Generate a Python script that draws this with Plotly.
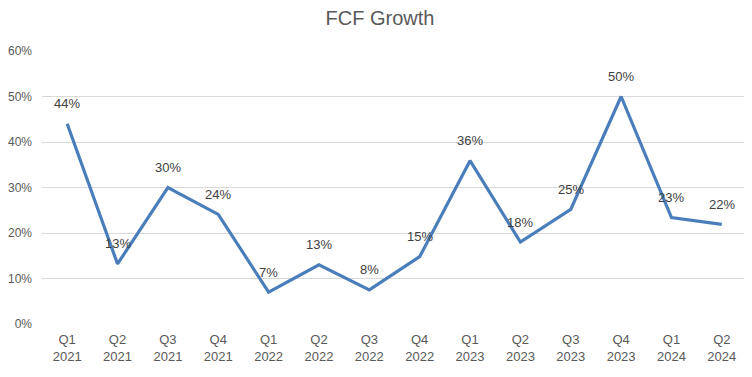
import plotly.graph_objects as go

categories = ["Q1<br>2021", "Q2<br>2021", "Q3<br>2021", "Q4<br>2021",
              "Q1<br>2022", "Q2<br>2022", "Q3<br>2022", "Q4<br>2022",
              "Q1<br>2023", "Q2<br>2023", "Q3<br>2023", "Q4<br>2023",
              "Q1<br>2024", "Q2<br>2024"]
fcf_growth = [0.44, 0.132, 0.30, 0.241, 0.070, 0.130, 0.075, 0.148,
              0.359, 0.180, 0.252, 0.50, 0.234, 0.219]
y_ticks = [0, 0.1, 0.2, 0.3, 0.4, 0.5, 0.6]
y_tick_labels = ["0%", "10%", "20%", "30%", "40%", "50%", "60%"]

FONT = "Liberation Sans, Arial, sans-serif"

W, H = 744, 369  # page body has an 8px margin

fig = go.Figure()
fig.add_trace(go.Scatter(
    x=categories, y=fcf_growth, mode="lines",
    line=dict(color="#4a7ebb", width=3.2),
    hoverinfo="skip", showlegend=False,
))

for c, v in zip(categories, fcf_growth):
    fig.add_annotation(
        x=c, y=v, text=f"{round(v*100):.0f}%", showarrow=False,
        yshift=20, yanchor="middle", xanchor="center",
        font=dict(family=FONT, size=13, color="#404040"),
    )

fig.update_layout(
    width=W, height=H,
    margin=dict(l=34, r=5, t=43, b=53, autoexpand=False),
    paper_bgcolor="white", plot_bgcolor="white",
    title=dict(text="FCF Growth", x=0.5, xanchor="center", y=1 - 10/H, yanchor="middle",
               font=dict(family=FONT, size=20, color="#595959")),
    font=dict(family=FONT, size=13, color="#595959"),
)
fig.update_xaxes(
    type="category", showgrid=False, showline=False, zeroline=False,
    tickfont=dict(family=FONT, size=13, color="#595959"),
    ticks="", range=[-0.5, len(categories) - 0.5],
    automargin=False, ticklabelstandoff=6,
)
fig.update_yaxes(
    range=[0, 0.6], tickvals=y_ticks, ticktext=y_tick_labels,
    showgrid=True, gridcolor="#d9d9d9", gridwidth=1,
    zeroline=False, showline=False, ticks="",
    ticklabelstandoff=9, automargin=False,
    tickfont=dict(family=FONT, size=12, color="#595959"),
)

fig.write_html("out.html")
